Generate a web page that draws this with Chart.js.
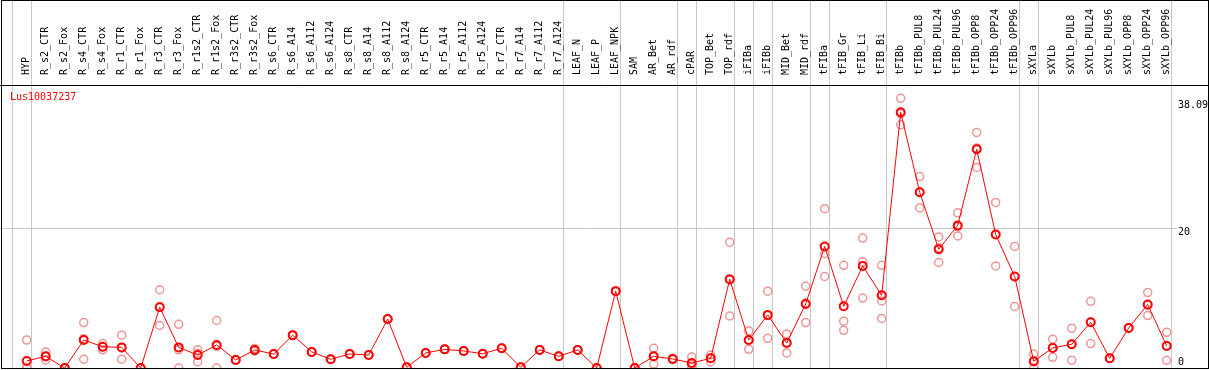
<!DOCTYPE html>
<html>
<head>
<meta charset="utf-8">
<script src="https://cdn.jsdelivr.net/npm/chart.js@4/dist/chart.umd.min.js"></script>
<style>
  html, body { margin: 0; padding: 0; background: #fff; }
  canvas { display: block; }
</style>
</head>
<body>
<canvas id="chart" width="1209" height="370"></canvas>
<script>
// sample names along the top axis
const samples = [
  "HYP", "R_s2_CTR", "R_s2_Fox", "R_s4_CTR", "R_s4_Fox", "R_r1_CTR", "R_r1_Fox",
  "R_r3_CTR", "R_r3_Fox", "R_r1s2_CTR", "R_r1s2_Fox", "R_r3s2_CTR", "R_r3s2_Fox",
  "R_s6_CTR", "R_s6_A14", "R_s6_A112", "R_s6_A124", "R_s8_CTR", "R_s8_A14", "R_s8_A112",
  "R_s8_A124", "R_r5_CTR", "R_r5_A14", "R_r5_A112", "R_r5_A124", "R_r7_CTR", "R_r7_A14",
  "R_r7_A112", "R_r7_A124", "LEAF_N", "LEAF_P", "LEAF_NPK", "SAM", "AR_Bet", "AR_rdf",
  "cPAR", "TOP_Bet", "TOP_rdf", "iFIBa", "iFIBb", "MID_Bet", "MID_rdf", "tFIBa",
  "tFIB_Gr", "tFIB_Li", "tFIB_Bi", "tFIBb", "tFIBb_PUL8", "tFIBb_PUL24", "tFIBb_PUL96",
  "tFIBb_OPP8", "tFIBb_OPP24", "tFIBb_OPP96", "sXYLa", "sXYLb", "sXYLb_PUL8",
  "sXYLb_PUL24", "sXYLb_PUL96", "sXYLb_OPP8", "sXYLb_OPP24", "sXYLb_OPP96"
];

// mean expression per sample
const meanValues = [
  1.0, 1.67, 0, 4.0, 3.05, 2.95, 0, 8.7, 2.95, 1.86, 3.3, 1.15, 2.58,
  2.0, 4.7, 2.3, 1.25, 2.0, 1.86, 7.0, 0.1, 2.15, 2.67, 2.43, 2.05, 2.82, 0.1,
  2.58, 1.67, 2.58, 0, 11.0, 0, 1.67, 1.29, 0.72, 1.39, 12.7, 4.0, 7.6, 3.58, 9.16, 17.4,
  8.83, 14.6, 10.4, 36.6, 25.15, 17.0, 20.4, 31.3, 19.1, 13.1, 0.96, 2.86, 3.39,
  6.54, 1.39, 5.73, 9.1, 3.15
];

// replicates
const rep1 = [
  4.0, 2.3, 0, 6.5, 3.5, 4.7, 0, 11.2, 6.25, 2.6, 6.8, 1.2, 2.8,
  2.0, 4.7, 2.3, 1.25, 2.0, 1.86, 7.0, 0.1, 2.15, 2.67, 2.43, 2.05, 2.82, 0.1,
  2.58, 1.67, 2.58, 0, 11.0, 0, 2.82, 1.4, 1.57, 1.86, 18.0, 5.3, 11.0, 4.87, 11.7, 22.8,
  14.7, 18.6, 14.7, 38.6, 27.4, 18.75, 22.2, 33.7, 23.7, 17.4, 2.0, 4.1, 5.68,
  9.55, 1.39, 5.73, 10.8, 5.1
];
const rep2 = [
  0.1, 1.15, 0, 1.25, 2.6, 1.25, 0, 6.1, 0, 0.9, 0, 1.1, 2.4,
  2.0, 4.7, 2.3, 1.25, 2.0, 1.86, 7.0, 0.1, 2.15, 2.67, 2.43, 2.05, 2.82, 0.1,
  2.58, 1.67, 2.58, 0, 11.0, 0, 0.57, 1.2, 0.1, 0.9, 7.44, 2.67, 4.25, 2.15, 6.5, 13.1,
  5.4, 10.0, 7.1, 34.8, 22.9, 15.1, 18.9, 28.7, 14.6, 8.8, 0, 1.53, 1.1,
  3.5, 1.39, 5.73, 7.5, 1.1
];
const rep3 = [
  0, 1.6, 0, 4.2, 3.0, 2.9, 0, 8.8, 2.6, 2.1, 3.1, 1.15, 2.5,
  2.0, 4.7, 2.3, 1.25, 2.0, 1.86, 7.0, 0.1, 2.15, 2.67, 2.43, 2.05, 2.82, 0.1,
  2.58, 1.67, 2.58, 0, 11.0, 0, 1.6, 1.29, 0.5, 1.4, 12.6, 4.0, 7.5, 3.7, 9.3, 16.4,
  6.7, 15.2, 9.6, 36.4, 25.2, 17.2, 20.2, 31.5, 19.1, 13.1, 0.9, 2.9, 3.4,
  6.6, 1.39, 5.73, 9.0, 3.2
];

const yTicks = [0, 20, 38.09];
// separator drawn after these sample indexes
const groupEnds = [-1, 0, 28, 31, 34, 35, 37, 38, 39, 41, 42, 45, 52, 53, 60];
const geneName = "Lus10037237";

const monoFont = { family: "'DejaVu Sans Mono', monospace", size: 10 };
const toPoints = (arr) => arr.map((v, i) => ({ x: i, y: v }));

const framePlugin = {
  id: "frame",
  beforeDraw(chart) {
    const ctx = chart.ctx;
    const area = chart.chartArea;
    const xs = chart.scales.x;

    // keep the lowest y label inside the frame
    const items = chart.scales.y.getLabelItems(area);
    for (const it of items) {
      const t = it.options.translation;
      if (t[1] > area.bottom - 6) t[1] = area.bottom - 6;
    }

    ctx.save();
    ctx.strokeStyle = "#c8c8c8";
    ctx.lineWidth = 1;
    for (const i of groupEnds) {
      const px = Math.round(xs.getPixelForValue(i) + 4) + 0.5;
      ctx.beginPath();
      ctx.moveTo(px, 0);
      ctx.lineTo(px, area.bottom);
      ctx.stroke();
    }
    ctx.restore();
  },
  afterDraw(chart) {
    const ctx = chart.ctx;
    const area = chart.chartArea;
    ctx.save();
    ctx.strokeStyle = "#000";
    ctx.lineWidth = 1;
    ctx.strokeRect(1.5, 0.5, chart.width - 2, area.bottom);
    ctx.beginPath();
    ctx.moveTo(0, area.top + 0.5);
    ctx.lineTo(chart.width, area.top + 0.5);
    ctx.stroke();

    ctx.fillStyle = "#ff0000";
    ctx.font = "10px 'DejaVu Sans Mono', monospace";
    ctx.textBaseline = "middle";
    ctx.fillText(geneName, 10, area.top + 12);
    ctx.restore();
  }
};

const repStyle = {
  showLine: false,
  pointRadius: 4,
  pointBorderWidth: 1.5,
  pointBorderColor: "#ef9595",
  pointBackgroundColor: "rgba(0,0,0,0)",
  borderColor: "#ef9595",
  order: 1
};

const ctx = document.getElementById("chart").getContext("2d");
new Chart(ctx, {
  type: "line",
  data: {
    datasets: [
      {
        label: "mean",
        data: toPoints(meanValues),
        borderColor: "#ff0000",
        borderWidth: 1,
        pointRadius: 4,
        pointBorderWidth: 2,
        pointBorderColor: "#ff0000",
        pointBackgroundColor: "rgba(0,0,0,0)",
        tension: 0,
        order: 0
      },
      { label: "rep1", data: toPoints(rep1), ...repStyle },
      { label: "rep2", data: toPoints(rep2), ...repStyle },
      { label: "rep3", data: toPoints(rep3), ...repStyle }
    ]
  },
  options: {
    responsive: false,
    devicePixelRatio: 1,
    animation: false,
    layout: { autoPadding: false, padding: { left: 0, right: 0, top: 0, bottom: 2 } },
    plugins: {
      legend: { display: false },
      tooltip: { enabled: false }
    },
    scales: {
      x: {
        type: "linear",
        position: "top",
        min: -1.405,
        max: 60.542,
        afterBuildTicks: (s) => { s.ticks = samples.map((_, i) => ({ value: i })); },
        afterFit: (s) => { s.height = 85; s.paddingLeft = 0; s.paddingRight = 0; },
        grid: { display: false },
        border: { display: false },
        ticks: {
          autoSkip: false,
          minRotation: 90,
          maxRotation: 90,
          padding: 2,
          labelOffset: 12,
          color: "#000",
          font: monoFont,
          callback: (v) => samples[v]
        }
      },
      y: {
        position: "right",
        min: 0,
        max: 40.5,
        afterBuildTicks: (s) => { s.ticks = yTicks.map((v) => ({ value: v })); },
        afterFit: (s) => { s.width = 32; s.paddingTop = 0; s.paddingBottom = 0; },
        grid: {
          color: (c) => (c.tick && c.tick.value === 20 ? "#c8c8c8" : "rgba(0,0,0,0)"),
          drawTicks: false
        },
        border: { display: false },
        ticks: {
          padding: 1,
          labelOffset: 4,
          color: "#000",
          font: monoFont,
          callback: (v) => String(v)
        }
      }
    }
  },
  plugins: [framePlugin]
});
</script>
</body>
</html>
